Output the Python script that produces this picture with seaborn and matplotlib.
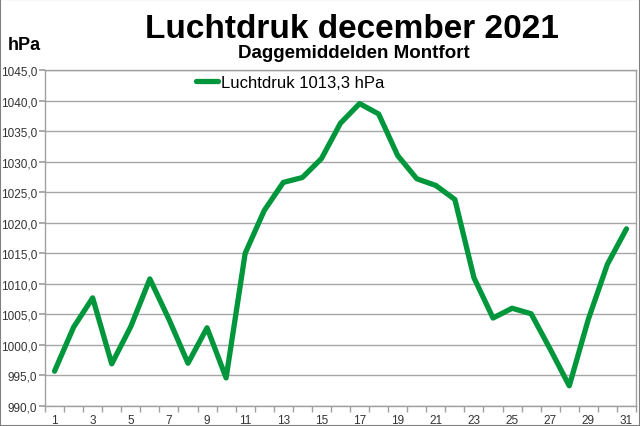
import matplotlib
matplotlib.use("Agg")
import matplotlib.pyplot as plt
import matplotlib.ticker as mticker
import pandas as pd
import seaborn as sns
from matplotlib.patches import Rectangle

# daily mean air pressure, Montfort, December 2021 (hPa)
days = list(range(1, 32))
pressure = [995.7, 1002.9, 1007.7, 996.9, 1003.0, 1010.8, 1004.2, 997.0, 1002.8, 994.6,
            1015.0, 1022.0, 1026.6, 1027.4, 1030.5, 1036.3, 1039.5, 1037.8, 1031.0, 1027.2,
            1026.1, 1023.8, 1011.0, 1004.4, 1006.0, 1005.1, 999.3, 993.3, 1004.2, 1013.2, 1019.0]
legend_label = 'Luchtdruk 1013,3 hPa'
y_ticks = [990, 995, 1000, 1005, 1010, 1015, 1020, 1025, 1030, 1035, 1040, 1045]
x_labels = [1, 3, 5, 7, 9, 11, 13, 15, 17, 19, 21, 23, 25, 27, 29, 31]

df = pd.DataFrame({'dag': days, 'luchtdruk': pressure})

sns.set_theme(style="white")
plt.rcParams['font.family'] = ['Liberation Sans', 'DejaVu Sans']

fig = plt.figure(figsize=(6.4, 4.27), dpi=100)
ax = fig.add_axes([45/640, 20/427, 591/640, 336/427])

sns.lineplot(data=df, x='dag', y='luchtdruk', color='#00963C', linewidth=3.8,
             label=legend_label, ax=ax)
ax.lines[0].set_solid_joinstyle('round')
ax.lines[0].set_solid_capstyle('round')

ax.set_xlim(0.5, 31.5)
ax.set_ylim(990, 1045)
ax.set_yticks(y_ticks)
ax.yaxis.set_major_formatter(mticker.FuncFormatter(lambda v, p: f"{v:.1f}".replace('.', ',')))
ax.set_xticks(x_labels)
ax.set_xticks([d + 0.5 for d in range(0, 32)], minor=True)
ax.set_xlabel('')
ax.set_ylabel('')
ax.grid(axis='y', color='#A6A6A6', linewidth=1)
ax.set_axisbelow(True)
for s in ax.spines.values():
    s.set_color('#A0A0A0')
    s.set_linewidth(1)
ax.tick_params(axis='x', which='major', length=0, pad=6, labelsize=8.5, labelcolor='#333333')
ax.tick_params(axis='x', which='minor', length=4, color='#A0A0A0', direction='out', bottom=True)
ax.tick_params(axis='y', which='major', length=4, color='#A0A0A0', direction='out', left=True,
               pad=1.5, labelsize=8.5, labelcolor='#333333')

leg = ax.legend(loc='center left', bbox_to_anchor=(196/640, 1 - 83/427),
                bbox_transform=fig.transFigure, frameon=False, fontsize=12,
                handlelength=1.3, handletextpad=0.2, borderaxespad=0, borderpad=0)
for t in leg.get_texts():
    t.set_color('black')

fig.text(352/640, 1 - 30/427, 'Luchtdruk december 2021', ha='center', va='center',
         fontsize=24, fontweight='bold', color='black')
fig.text(354/640, 1 - 54/427, 'Daggemiddelden Montfort', ha='center', va='center',
         fontsize=13.5, fontweight='bold', color='black')
fig.text(8/640, 1 - 46/427, 'hPa', ha='left', va='center', fontsize=13, fontweight='bold',
         color='black')

fig.patches.append(Rectangle((0, 0), 1, 1, transform=fig.transFigure, fill=False,
                             edgecolor='#808080', linewidth=1.5))

plt.savefig('out.png', dpi=100)
